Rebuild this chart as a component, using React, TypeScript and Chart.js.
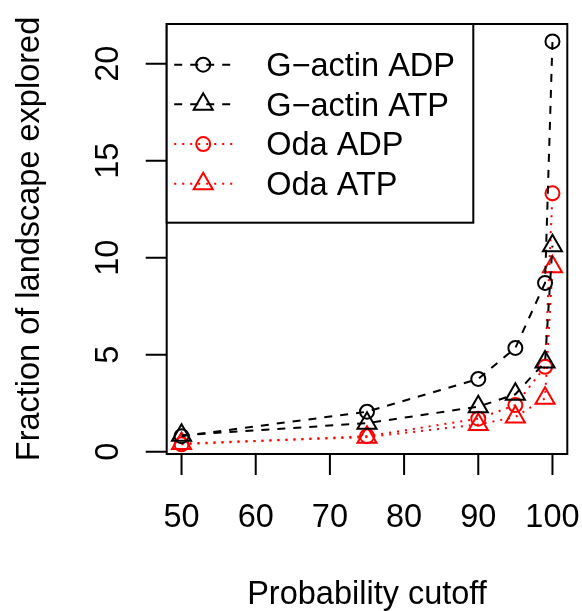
import React, { useEffect, useRef } from "react";
import { Chart, registerables } from "chart.js";

Chart.register(...registerables);

const X_VALUES = [50, 75, 90, 95, 99, 100];
const G_ACTIN_ADP = [0.8, 2.06, 3.75, 5.35, 8.7, 21.15];
const G_ACTIN_ATP = [0.85, 1.47, 2.32, 2.96, 4.62, 10.62];
const ODA_ADP = [0.38, 0.8, 1.7, 2.4, 4.38, 13.32];
const ODA_ATP = [0.42, 0.75, 1.4, 1.79, 2.75, 9.54];

const X_TICKS = [50, 60, 70, 80, 90, 100];
const Y_TICKS = [0, 5, 10, 15, 20];
const SERIES_LABELS = ["G\u2212actin ADP", "G\u2212actin ATP", "Oda ADP", "Oda ATP"];
const X_TITLE = "Probability cutoff";
const Y_TITLE = "Fraction of landscape explored";

const FONT = '32.5px "Liberation Sans", Arial, Helvetica, sans-serif';

function drawSymbol(ctx: CanvasRenderingContext2D, style: string, x: number, y: number, r: number) {
  ctx.beginPath();
  if (style === "circle") {
    ctx.arc(x, y, r, 0, Math.PI * 2);
  } else {
    const tr = r;
    for (let i = 0; i < 3; i++) {
      const a = (i * 2 * Math.PI) / 3;
      const px = x + Math.sin(a) * tr;
      const py = y - Math.cos(a) * tr;
      if (i === 0) ctx.moveTo(px, py);
      else ctx.lineTo(px, py);
    }
    ctx.closePath();
  }
  ctx.stroke();
}

const rAxesPlugin = {
  id: "rAxes",
  afterDraw(chart: any) {
    const ctx: CanvasRenderingContext2D = chart.ctx;
    const { left, right, top, bottom } = chart.chartArea;
    const xs = chart.scales.x;
    const ys = chart.scales.y;
    ctx.save();
    ctx.setLineDash([]);
    ctx.strokeStyle = "#000";
    ctx.fillStyle = "#000";
    ctx.lineWidth = 2;
    ctx.strokeRect(left, top, right - left, bottom - top);

    ctx.beginPath();
    X_TICKS.forEach((v) => {
      const px = xs.getPixelForValue(v);
      ctx.moveTo(px, bottom);
      ctx.lineTo(px, bottom + 21);
    });
    Y_TICKS.forEach((v) => {
      const py = ys.getPixelForValue(v);
      ctx.moveTo(left, py);
      ctx.lineTo(left - 21, py);
    });
    ctx.stroke();

    ctx.font = FONT;
    ctx.textAlign = "center";
    ctx.textBaseline = "alphabetic";
    X_TICKS.forEach((v) => {
      ctx.fillText(String(v), xs.getPixelForValue(v), bottom + 73);
    });
    Y_TICKS.forEach((v) => {
      ctx.save();
      ctx.translate(left - 48.5, ys.getPixelForValue(v));
      ctx.rotate(-Math.PI / 2);
      ctx.fillText(String(v), 0, 0);
      ctx.restore();
    });
    ctx.fillText(X_TITLE, (left + right) / 2, bottom + 149.5);
    ctx.save();
    ctx.translate(38.5, (top + bottom) / 2);
    ctx.rotate(-Math.PI / 2);
    ctx.fillText(Y_TITLE, 0, 0);
    ctx.restore();

    // legend
    const lx = left;
    const ly = top;
    const lw = 306.6;
    const lh = 198.7;
    ctx.fillStyle = "#fff";
    ctx.fillRect(lx, ly, lw, lh);
    ctx.strokeStyle = "#000";
    ctx.lineWidth = 2;
    ctx.strokeRect(lx, ly, lw, lh);
    chart.data.datasets.forEach((ds: any, i: number) => {
      const cy = ly + 40.7 + i * 39.67;
      ctx.strokeStyle = ds.borderColor;
      ctx.lineWidth = ds.borderWidth;
      ctx.setLineDash(ds.borderDash);
      ctx.beginPath();
      ctx.moveTo(lx + 7.5, cy);
      ctx.lineTo(lx + 65.5, cy);
      ctx.stroke();
      ctx.setLineDash([]);
      ctx.lineWidth = ds.pointBorderWidth;
      drawSymbol(ctx, ds.pointStyle, lx + 36.5, cy, ds.pointRadius);
      ctx.fillStyle = "#000";
      ctx.textAlign = "left";
      ctx.font = FONT;
      ctx.fillText(ds.label, lx + 99.5, cy + 11.3);
    });
    ctx.restore();
  },
};

function makeDataset(label: string, values: number[], color: string, dash: number[], style: string, radius: number) {
  return {
    label,
    data: X_VALUES.map((x, i) => ({ x, y: values[i] })),
    borderColor: color,
    borderWidth: 2,
    borderDash: dash,
    showLine: true,
    fill: false,
    tension: 0,
    pointStyle: style,
    pointRadius: radius,
    pointBorderWidth: 2,
    pointBorderColor: color,
    pointBackgroundColor: "rgba(0,0,0,0)",
    pointHoverRadius: radius,
    clip: false,
  };
}

export default function App() {
  const canvasRef = useRef<HTMLCanvasElement | null>(null);

  useEffect(() => {
    if (!canvasRef.current) return;
    const chart = new Chart(canvasRef.current, {
      type: "scatter",
      data: {
        datasets: [
          makeDataset(SERIES_LABELS[0], G_ACTIN_ADP, "#000000", [8, 8], "circle", 7),
          makeDataset(SERIES_LABELS[1], G_ACTIN_ATP, "#000000", [8, 8], "triangle", 11),
          makeDataset(SERIES_LABELS[2], ODA_ADP, "#ff0000", [2, 6], "circle", 7),
          makeDataset(SERIES_LABELS[3], ODA_ATP, "#ff0000", [2, 6], "triangle", 11),
        ] as any,
      },
      options: {
        responsive: false,
        animation: false,
        devicePixelRatio: 1,
        layout: { padding: { left: 166.7, top: 24, right: 14.7, bottom: 157 } },
        plugins: { legend: { display: false }, tooltip: { enabled: false } },
        scales: {
          x: { type: "linear", min: 48, max: 102, display: false },
          y: { type: "linear", min: -0.12, max: 22.05, display: false },
        },
      } as any,
      plugins: [rAxesPlugin],
    });
    return () => chart.destroy();
  }, []);

  return (
    <div style={{ position: "absolute", left: 0, top: 0, width: 582, height: 611, background: "#fff" }}>
      <canvas ref={canvasRef} width={582} height={611} style={{ display: "block" }} />
    </div>
  );
}
